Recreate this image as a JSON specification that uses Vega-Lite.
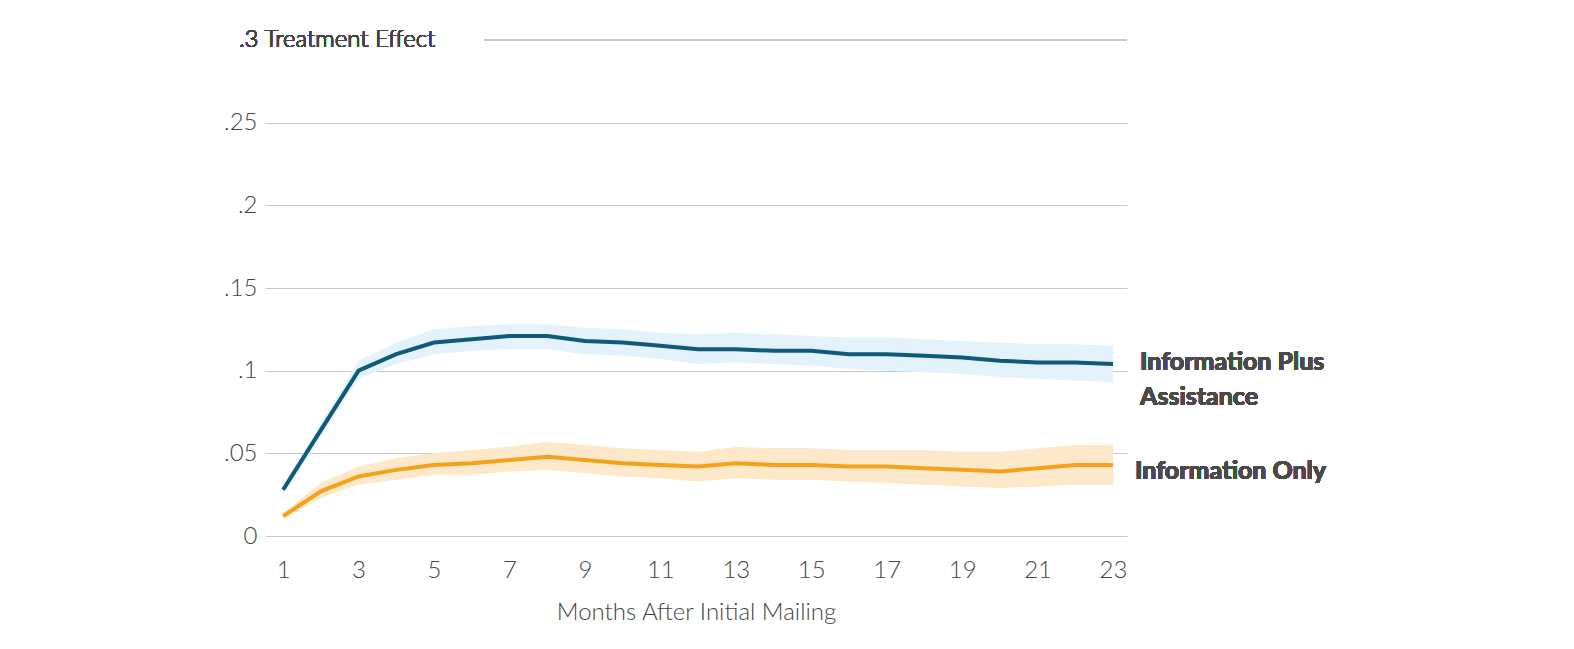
{
  "$schema": "https://vega.github.io/schema/vega-lite/v6.json",
  "autosize": "none",
  "width": 862,
  "height": 496,
  "padding": {"left": 265, "top": 40, "right": 447, "bottom": 113},
  "background": "white",
  "config": {"view": {"stroke": null}, "font": "Lato"},
  "data": {"values": [
    {"m":1,"s":"A","v":0.028,"lo":0.025,"hi":0.031},{"m":2,"s":"A","v":0.064,"lo":0.060,"hi":0.068},{"m":3,"s":"A","v":0.100,"lo":0.095,"hi":0.106},{"m":4,"s":"A","v":0.110,"lo":0.104,"hi":0.117},{"m":5,"s":"A","v":0.117,"lo":0.110,"hi":0.125},{"m":6,"s":"A","v":0.119,"lo":0.112,"hi":0.127},{"m":7,"s":"A","v":0.121,"lo":0.113,"hi":0.128},{"m":8,"s":"A","v":0.121,"lo":0.113,"hi":0.128},{"m":9,"s":"A","v":0.118,"lo":0.110,"hi":0.126},{"m":10,"s":"A","v":0.117,"lo":0.109,"hi":0.125},{"m":11,"s":"A","v":0.115,"lo":0.107,"hi":0.123},{"m":12,"s":"A","v":0.113,"lo":0.104,"hi":0.122},{"m":13,"s":"A","v":0.113,"lo":0.105,"hi":0.123},{"m":14,"s":"A","v":0.112,"lo":0.104,"hi":0.122},{"m":15,"s":"A","v":0.112,"lo":0.103,"hi":0.121},{"m":16,"s":"A","v":0.110,"lo":0.101,"hi":0.120},{"m":17,"s":"A","v":0.110,"lo":0.100,"hi":0.120},{"m":18,"s":"A","v":0.109,"lo":0.099,"hi":0.119},{"m":19,"s":"A","v":0.108,"lo":0.098,"hi":0.118},{"m":20,"s":"A","v":0.106,"lo":0.096,"hi":0.117},{"m":21,"s":"A","v":0.105,"lo":0.095,"hi":0.116},{"m":22,"s":"A","v":0.105,"lo":0.094,"hi":0.116},{"m":23,"s":"A","v":0.104,"lo":0.093,"hi":0.115},
    {"m":1,"s":"B","v":0.012,"lo":0.010,"hi":0.014},{"m":2,"s":"B","v":0.027,"lo":0.023,"hi":0.032},{"m":3,"s":"B","v":0.036,"lo":0.031,"hi":0.042},{"m":4,"s":"B","v":0.040,"lo":0.034,"hi":0.047},{"m":5,"s":"B","v":0.043,"lo":0.037,"hi":0.050},{"m":6,"s":"B","v":0.044,"lo":0.037,"hi":0.052},{"m":7,"s":"B","v":0.046,"lo":0.039,"hi":0.054},{"m":8,"s":"B","v":0.048,"lo":0.040,"hi":0.057},{"m":9,"s":"B","v":0.046,"lo":0.038,"hi":0.055},{"m":10,"s":"B","v":0.044,"lo":0.036,"hi":0.053},{"m":11,"s":"B","v":0.043,"lo":0.035,"hi":0.052},{"m":12,"s":"B","v":0.042,"lo":0.033,"hi":0.051},{"m":13,"s":"B","v":0.044,"lo":0.035,"hi":0.054},{"m":14,"s":"B","v":0.043,"lo":0.034,"hi":0.053},{"m":15,"s":"B","v":0.043,"lo":0.034,"hi":0.053},{"m":16,"s":"B","v":0.042,"lo":0.033,"hi":0.052},{"m":17,"s":"B","v":0.042,"lo":0.032,"hi":0.052},{"m":18,"s":"B","v":0.041,"lo":0.031,"hi":0.052},{"m":19,"s":"B","v":0.040,"lo":0.030,"hi":0.051},{"m":20,"s":"B","v":0.039,"lo":0.029,"hi":0.051},{"m":21,"s":"B","v":0.041,"lo":0.030,"hi":0.053},{"m":22,"s":"B","v":0.043,"lo":0.031,"hi":0.055},{"m":23,"s":"B","v":0.043,"lo":0.031,"hi":0.055}
  ]},
  "layer": [
    {
      "mark": {"type": "area", "opacity": 1},
      "encoding": {
        "x": {"field": "m", "type": "quantitative", "scale": {"domain": [0.52, 23.37], "nice": false, "zero": false},
          "axis": {"values": [1,2,3,4,5,6,7,8,9,10,11,12,13,14,15,16,17,18,19,20,21,22,23], "grid": false, "domain": false, "ticks": false,
            "labelFontSize": 24, "labelColor": "#444", "labelFontWeight": 300, "labelPadding": 22, "labelFlush": false,
            "title": "Months After Initial Mailing", "titleFontSize": 24, "titleFontWeight": 300, "titleColor": "#444", "titlePadding": 18}},
        "y": {"field": "lo", "type": "quantitative", "scale": {"domain": [0, 0.3], "nice": false},
          "axis": {"values": [0,0.05,0.1,0.15,0.2,0.25,0.3], "domain": false, "ticks": false, "title": null,
            "labelExpr": "datum.value == 0.3 ? '' : replace(format(datum.value, '~g'), '0.', '.')",
            "labelFontSize": 24, "labelColor": "#444", "labelFontWeight": 300, "labelPadding": 8,
            "gridColor": "#c8c8c8", "gridOpacity": {"condition": {"test": "datum.value == 0.3", "value": 0}, "value": 1}}},
        "y2": {"field": "hi"},
        "color": {"field": "s", "type": "nominal", "scale": {"domain": ["A","B"], "range": ["#e4f2fb", "#fde8c9"]}, "legend": null}
      }
    },
    {
      "mark": {"type": "line", "strokeWidth": 4},
      "encoding": {
        "x": {"field": "m", "type": "quantitative"},
        "y": {"field": "v", "type": "quantitative"},
        "detail": {"field": "s"},
        "stroke": {"field": "s", "type": "nominal", "scale": {"domain": ["A","B"], "range": ["#0f5a7a", "#f5a21b"]}, "legend": null}
      }
    },
    {
      "mark": {"type": "rule", "color": "#c8c8c8", "strokeWidth": 1},
      "encoding": {"x": {"datum": 6.35}, "x2": {"datum": 23.37}, "y": {"datum": 0.3}}
    },
    {
      "mark": {"type": "text", "align": "left", "baseline": "middle", "fontSize": 24, "fontWeight": 300, "color": "#444"},
      "encoding": {"x": {"datum": -0.17}, "y": {"datum": 0.3}, "text": {"value": ".3 Treatment Effect"}}
    },
    {
      "mark": {"type": "text", "align": "left", "baseline": "middle", "fontSize": 25, "fontWeight": "bold", "color": "#4a4a4a", "lineHeight": 35, "dx": 27},
      "encoding": {"x": {"datum": 23}, "y": {"datum": 0.1055}, "text": {"value": ["Information Plus", "Assistance"]}}
    },
    {
      "mark": {"type": "text", "align": "left", "baseline": "middle", "fontSize": 25, "fontWeight": "bold", "color": "#4a4a4a", "dx": 22},
      "encoding": {"x": {"datum": 23}, "y": {"datum": 0.0395}, "text": {"value": "Information Only"}}
    }
  ]
}
